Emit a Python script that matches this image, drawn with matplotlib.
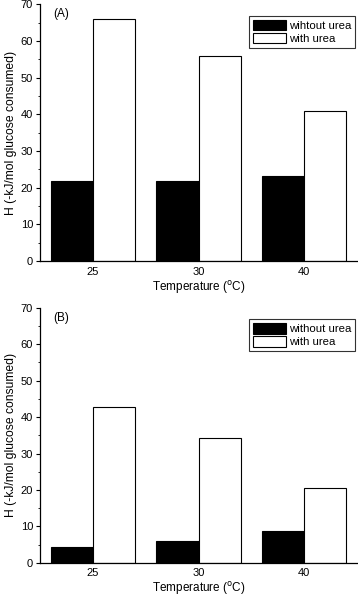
import numpy as np
import matplotlib
matplotlib.use("Agg")
import matplotlib.pyplot as plt
from matplotlib.ticker import MultipleLocator

plt.rcParams['font.family'] = ['Liberation Sans', 'DejaVu Sans']

temps = ['25', '30', '40']
a_without = [21.7, 21.7, 23.2]
a_with = [66.1, 55.8, 41.0]
b_without = [4.3, 6.1, 8.8]
b_with = [42.8, 34.3, 20.5]

panels = [
    ('(A)', 'wihtout urea', a_without, a_with, [0.112, 0.565, 0.885, 0.428]),
    ('(B)', 'without urea', b_without, b_with, [0.112, 0.062, 0.885, 0.425]),
]

fig = plt.figure(figsize=(3.58, 6.0), dpi=100)
x = np.arange(len(temps))
w = 0.4

for tag, lab0, v0, v1, pos in panels:
    ax = fig.add_axes(pos)
    ax.bar(x - w / 2, v0, w, color='black', edgecolor='black', lw=0.8, label=lab0)
    ax.bar(x + w / 2, v1, w, color='white', edgecolor='black', lw=0.8, label='with urea')
    ax.set_xlim(-0.5, 2.5)
    ax.set_ylim(0, 70)
    ax.set_xticks(x)
    ax.set_xticklabels(temps)
    ax.yaxis.set_major_locator(MultipleLocator(10))
    ax.yaxis.set_minor_locator(MultipleLocator(5))
    ax.tick_params(axis='y', direction='out', labelsize=8, length=3, width=0.8, pad=2)
    ax.tick_params(axis='y', which='minor', direction='out', length=1.5, width=0.6)
    ax.tick_params(axis='x', length=0, labelsize=8, pad=4)
    for s in ('top', 'right'):
        ax.spines[s].set_visible(False)
    for s in ('left', 'bottom'):
        ax.spines[s].set_linewidth(0.9)
    ax.set_xlabel('Temperature ($^{\\rm o}$C)', fontsize=8.5, labelpad=1.5)
    ax.set_ylabel('H (-kJ/mol glucose consumed)', fontsize=8.7, labelpad=3)
    ax.text(0.04, 0.985, tag, transform=ax.transAxes, fontsize=8.5, va='top')
    leg = ax.legend(loc='upper right', bbox_to_anchor=(0.995, 0.955), fontsize=8.2,
                    frameon=True, fancybox=False, edgecolor='black',
                    handlelength=2.9, handleheight=1.05, handletextpad=0.3,
                    borderpad=0.35, labelspacing=0.15, borderaxespad=0.0)
    leg.get_frame().set_linewidth(0.8)

fig.savefig('out.png', dpi=100)
